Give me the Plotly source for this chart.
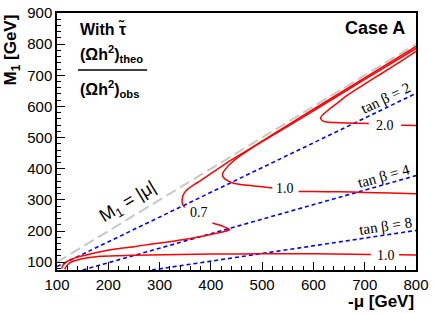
import plotly.graph_objects as go

# ---------------- data ----------------
# diagonal M1 = |mu|
diag_x = [100, 800]
diag_y = [100, 800]

# tan(beta) reference lines
tb2_x = [100, 800]
tb2_y = [86, 642]
tb4_x = [150, 800]
tb4_y = [75, 378]
tb8_x = [285, 800]
tb8_y = [75, 202]

# contour 0.7 (two pieces, gap for label)
c07a_x = [800, 700, 600, 550, 500, 471, 432, 405, 380, 368, 356, 348, 345, 344, 345, 349]
c07a_y = [793, 692, 591, 540, 489, 459, 420, 390, 362, 350, 336, 322, 310, 295, 285, 276]
c07b_x = [403, 415, 428, 437, 432, 400, 360, 340, 320, 282, 250, 217, 180, 151, 135, 120, 112, 109]
c07b_y = [226, 220, 212, 205, 201, 189, 176, 171, 166, 158, 150, 143, 132, 121, 114, 103, 91, 80]

# contour 1.0 upper (two pieces)
c10a_x = [800, 700, 600, 550, 500, 470, 452, 438, 428, 423, 424, 430, 440, 455, 477, 500, 520]
c10a_y = [786, 687, 586, 536, 487, 456, 436, 416, 398, 385, 374, 364, 356, 350, 346, 342, 338]
c10b_x = [571, 600, 650, 700, 750, 800]
c10b_y = [327, 327, 326, 324, 322, 320]

# contour 1.0 lower (two pieces)
c10c_x = [115, 118, 125, 140, 160, 184, 220, 280, 340, 400, 500, 600, 712]
c10c_y = [77, 86, 98, 107, 114, 119, 121, 123, 125, 126, 127, 127, 125]
c10d_x = [767, 800]
c10d_y = [124, 123]

# contour 2.0 (two pieces)
c20a_x = [800, 764, 732, 698, 667, 646, 630, 618, 614, 617, 625, 650, 680, 708]
c20a_y = [777, 738, 705, 670, 637, 610, 590, 573, 563, 555, 550, 548, 546, 545]
c20b_x = [771, 800]
c20b_y = [540, 539]

x_ticks = [100, 200, 300, 400, 500, 600, 700, 800]
y_ticks = [100, 200, 300, 400, 500, 600, 700, 800, 900]

RED = "#ff0000"
BLUE = "#0000ff"
GRAY = "#c8c8c8"

fig = go.Figure()

fig.add_trace(go.Scatter(x=diag_x, y=diag_y, mode="lines",
                         line=dict(color=GRAY, width=2, dash="11px,5px")))
for xs, ys in [(tb2_x, tb2_y), (tb4_x, tb4_y), (tb8_x, tb8_y)]:
    fig.add_trace(go.Scatter(x=xs, y=ys, mode="lines",
                             line=dict(color=BLUE, width=1.6, dash="4px,3px")))
for xs, ys in [(c07a_x, c07a_y), (c07b_x, c07b_y), (c10a_x, c10a_y), (c10b_x, c10b_y),
               (c10c_x, c10c_y), (c10d_x, c10d_y), (c20a_x, c20a_y), (c20b_x, c20b_y)]:
    fig.add_trace(go.Scatter(x=xs, y=ys, mode="lines",
                             line=dict(color=RED, width=1.5, shape="spline", smoothing=0.6)))

SERIF = "Liberation Serif"
SANS = "Liberation Sans"

ann = []
# contour labels
for txt, x, y in [("0.7", 376, 260), ("1.0", 545, 338), ("2.0", 739, 538), ("1.0", 741, 123)]:
    ann.append(dict(x=x, y=y, xref="x", yref="y", text=txt, showarrow=False,
                    font=dict(family=SERIF, size=14, color="black")))
# tan beta labels
for txt, x, y, ang in [("tan β = 2", 741, 628, -25.7), ("tan β = 4", 737, 377, -15.8),
                       ("tan β = 8", 741, 215, -8.5)]:
    ann.append(dict(x=x, y=y, xref="x", yref="y", text=txt, showarrow=False, textangle=ang,
                    font=dict(family=SERIF, size=15, color="black")))
# M1 = |mu|
ann.append(dict(x=239, y=293, xref="x", yref="y", text="M<sub>1</sub> = |μ|", showarrow=False,
                textangle=-31.2, font=dict(family=SANS, size=18, color="black")))
# paper texts
ann.append(dict(x=0.975, y=0.942, xref="paper", yref="paper", text="<b>Case A</b>", showarrow=False,
                xanchor="right", yanchor="middle", font=dict(family=SANS, size=18, color="black")))
ann.append(dict(x=0.0585, y=0.938, xref="paper", yref="paper", text="<b>With τ̃</b>", showarrow=False,
                xanchor="left", yanchor="middle", font=dict(family=SANS, size=16, color="black")))
ann.append(dict(x=0.0585, y=0.84, xref="paper", yref="paper",
                text="<b>(Ωh<sup>2</sup>)<sub>theo</sub></b>", showarrow=False,
                xanchor="left", yanchor="middle", font=dict(family=SANS, size=16, color="black")))
ann.append(dict(x=0.0585, y=0.705, xref="paper", yref="paper",
                text="<b>(Ωh<sup>2</sup>)<sub>obs</sub></b>", showarrow=False,
                xanchor="left", yanchor="middle", font=dict(family=SANS, size=16, color="black")))
# axis titles
ann.append(dict(x=1.0, y=-0.124, xref="paper", yref="paper", text="<b>-μ [GeV]</b>", showarrow=False,
                xanchor="right", yanchor="middle", font=dict(family=SANS, size=17, color="black")))
ann.append(dict(x=-0.124, y=0.856, xref="paper", yref="paper", text="<b>M<sub>1</sub> [GeV]</b>",
                showarrow=False, textangle=-90, xanchor="center", yanchor="middle",
                font=dict(family=SANS, size=17, color="black")))

fig.update_layout(
    width=433, height=314,
    margin=dict(l=57, r=17, t=13, b=44),
    paper_bgcolor="white", plot_bgcolor="white",
    showlegend=False,
    annotations=ann,
    shapes=[dict(type="line", xref="paper", yref="paper", x0=0.0585, x1=0.251, y0=0.778, y1=0.778,
                 line=dict(color="black", width=1.5))],
    font=dict(family=SANS, size=15, color="black"),
)
axis_common = dict(showgrid=False, zeroline=False, showline=True, linecolor="black", linewidth=1.5,
                   mirror=True, ticks="inside", ticklen=8, tickwidth=1, tickcolor="black",
                   tickfont=dict(family=SANS, size=15, color="black"), automargin=False,
                   minor=dict(ticks="inside", ticklen=4, dtick=20, tickcolor="black", tickwidth=1))
fig.update_xaxes(range=[100, 800], tickvals=x_ticks, **axis_common)
fig.update_yaxes(range=[75, 900], tickvals=y_ticks, **axis_common)

fig.write_html("out.html", config={"displayModeBar": False},
               post_script="document.body.style.margin='0';")
